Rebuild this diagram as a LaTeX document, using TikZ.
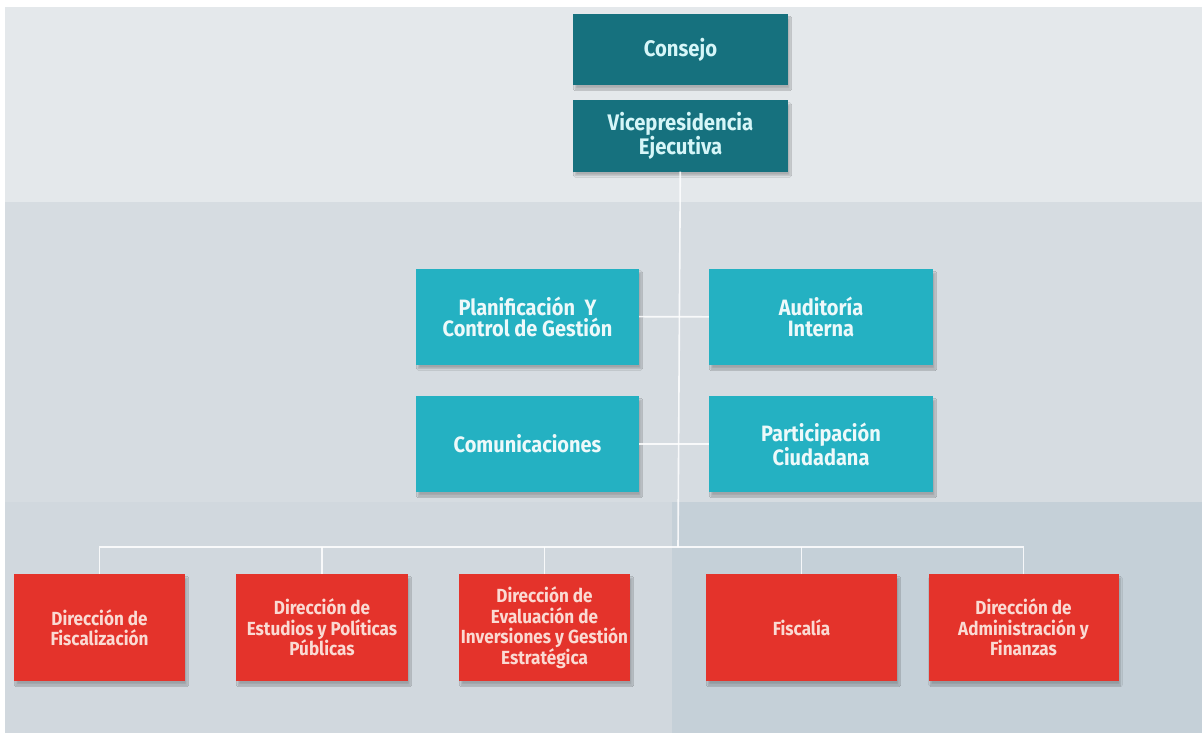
\documentclass[tikz,border=0pt]{standalone}
\usepackage{fontspec}
\newfontfamily\orgfont{Fira Sans}[FakeStretch=0.9]
\usetikzlibrary{shadows.blur}
\definecolor{bandtop}{HTML}{E4E8EB}
\definecolor{bandmid}{HTML}{D6DCE1}
\definecolor{bandlow}{HTML}{D1D8DE}
\definecolor{bandright}{HTML}{C5D0D8}
\definecolor{darkteal}{HTML}{16717E}
\definecolor{lightteal}{HTML}{24B1C2}
\definecolor{orgred}{HTML}{E4332B}
\definecolor{paletext}{HTML}{D6F6F8}
\definecolor{pinktext}{HTML}{FADAD3}
\begin{document}
\begin{tikzpicture}[x=1pt, y=-1pt,
    board/.style ={rectangle, inner sep=0pt, align=center, font=\orgfont\bfseries,
      blur shadow={shadow xshift=2pt, shadow yshift=-4pt, shadow opacity=25, shadow blur steps=6}},
    topunit/.style ={board, fill=darkteal, text=paletext, minimum width=215pt, minimum height=71pt,
      font=\orgfont\bfseries\fontsize{22.5}{20}\selectfont},
    staffunit/.style ={board, fill=lightteal, text=white!92!lightteal, minimum width=223pt, minimum height=96pt,
      font=\orgfont\bfseries\fontsize{22.2}{21}\selectfont},
    lineunit/.style ={board, fill=orgred, text=pinktext, minimum height=107pt,
      font=\orgfont\bfseries\fontsize{19}{20.5}\selectfont},
    link/.style ={draw=white, opacity=0.85, line width=1.6pt}]
   \useasboundingbox (0,0) rectangle (1202,733);
   \fill[white] (0,0) rectangle (1202,733);
   \fill[bandtop] (5,7) rectangle (1202,202);
   \fill[bandmid] (5,202) rectangle (1202,502);
   \fill[bandlow] (5,502) rectangle (672,733);
   \fill[bandright] (672,502) rectangle (1202,733);

   \node[topunit] (consejo) at (680.5,49.5) {Consejo};
   \node[topunit] (vp)      at (680.5,136)  {Vicepresidencia\\Ejecutiva};

   \node[staffunit] (plan)  at (527.5,316.5) {Planificación~ Y\\Control de Gestión};
   \node[staffunit, minimum width=224pt] (audit) at (821,317) {Auditoría\\Interna};
   \node[staffunit] (com)   at (527.5,444)  {Comunicaciones};
   \node[staffunit, minimum width=224pt] (part)  at (821,444) {Participación\\Ciudadana};

   \node[lineunit, minimum width=171pt] (fisc)  at (99.5,627.5)  {Dirección de\\Fiscalización};
   \node[lineunit, minimum width=172pt] (estud) at (322,627.5)   {Dirección de\\Estudios y Políticas\\Públicas};
   \node[lineunit, minimum width=171pt] (eval)  at (544.5,627.5) {Dirección de\\Evaluación de\\Inversiones y Gestión\\Estratégica};
   \node[lineunit, minimum width=191pt] (fiscalia) at (801.5,627.5) {Fiscalía};
   \node[lineunit, minimum width=190pt] (admin) at (1023.5,627.5) {Dirección de\\Administración y\\Finanzas};

   \coordinate (bus) at (678,547);

   \draw[link] (vp) to (bus);
   \draw[link] (plan) to (audit);
   \draw[link] (com) to (part);
   \draw[link] (fisc.north) |- (bus) -| (admin.north);
   \draw[link] (estud.north) to (estud.north |- bus);
   \draw[link] (eval.north) to (eval.north |- bus);
   \draw[link] (fiscalia.north) to (fiscalia.north |- bus);

 \end{tikzpicture}
\end{document}
